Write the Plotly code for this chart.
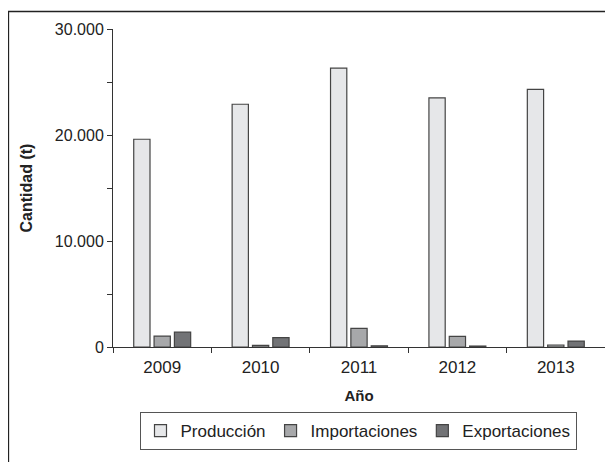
import plotly.graph_objects as go

years = ["2009", "2010", "2011", "2012", "2013"]
produccion = [19600, 22900, 26300, 23500, 24300]
importaciones = [1030, 150, 1750, 1000, 190]
exportaciones = [1400, 880, 120, 90, 560]

series_names = ["Producción", "Importaciones", "Exportaciones"]
colors = ["#e6e7e9", "#a7a8aa", "#727376"]
FONT = "Liberation Sans, Arial, sans-serif"

fig = go.Figure()
for name, vals, col in zip(series_names, [produccion, importaciones, exportaciones], colors):
    fig.add_trace(go.Bar(
        x=years, y=vals, name=name,
        marker=dict(color=col, line=dict(color="#444444", width=1.2)),
    ))

# The page body has an 8px margin; work in page pixels and convert.
OFF = 8
FW, FH = 613 - OFF, 462 - OFF
L, R, T, B = 113 - OFF, 605 - OFF, 29 - OFF, 347 - OFF
W, H = R - L, B - T

def px(x):
    return (x - OFF - L) / W

def py(y):
    return (B - (y - OFF)) / H

fig.update_layout(
    width=FW, height=FH,
    margin=dict(l=L, r=FW - R, t=T, b=FH - B, autoexpand=False),
    paper_bgcolor="white", plot_bgcolor="white",
    separators=",.",
    barmode="group", bargap=0.38, bargroupgap=0.2,
    font=dict(family=FONT, size=16, color="#222"),
    showlegend=True,
    legend=dict(
        orientation="h", x=px(358), xanchor="center", y=py(412), yanchor="top",
        bordercolor="#555", borderwidth=1, bgcolor="white",
        font=dict(family=FONT, size=17, color="#222"),
        tracegroupgap=0,
    ),
    xaxis=dict(
        type="category", showline=True, linecolor="#333", linewidth=1,
        ticks="outside", tickson="boundaries", ticklen=5, tickcolor="#333",
        ticklabelstandoff=5,
        showgrid=False, zeroline=False,
        tickfont=dict(family=FONT, size=17, color="#222"),
        title=dict(text="<b>Año</b>", font=dict(family=FONT, size=15, color="#222"), standoff=14),
    ),
    yaxis=dict(
        range=[0, 30000], tickvals=[0, 10000, 20000, 30000],
        tickformat=",d",
        showline=True, linecolor="#333", linewidth=1,
        ticks="outside", ticklen=5, tickcolor="#333",
        minor=dict(dtick=5000, ticks="outside", ticklen=5, tickcolor="#333"),
        showgrid=False, zeroline=False,
        tickfont=dict(family=FONT, size=16, color="#222"),
        title=dict(text="<b>Cantidad (t)</b>", font=dict(family=FONT, size=16, color="#222"), standoff=18),
    ),
)

fig.add_shape(type="rect", xref="paper", yref="paper",
              x0=px(8.5), x1=px(640), y0=py(490), y1=py(11.5),
              line=dict(color="#222", width=1.3), fillcolor="rgba(0,0,0,0)", layer="below")

fig.write_html("out.html")
